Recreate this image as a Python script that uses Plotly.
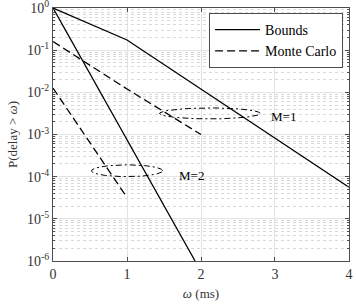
import numpy as np
import plotly.graph_objects as go

# data
bound_m1_x = [0, 1, 4]
bound_m1_y = [1.0, 0.175, 5.6e-5]
bound_m2_x = [0, 1.92]
bound_m2_y = [1.0, 1e-6]
mc_m1_x = [0, 1, 2]
mc_m1_y = [0.16, 0.012, 1.0e-3]
mc_m2_x = [0, 1]
mc_m2_y = [0.0126, 3.2e-5]

ytick_vals = [1e-6, 1e-5, 1e-4, 1e-3, 1e-2, 1e-1, 1]
ytick_text = ["10<sup>-6</sup>", "10<sup>-5</sup>", "10<sup>-4</sup>", "10<sup>-3</sup>",
              "10<sup>-2</sup>", "10<sup>-1</sup>", "10<sup>0</sup>"]
xtick_vals = [0, 1, 2, 3, 4]

# ellipse markers (center x, center log10 y, half width, half height in decades)
ellipses = [(2.12, -2.5, 0.68, 0.13), (1.0, -3.86, 0.48, 0.14)]
labels = [("M=1", 2.92, -2.58), ("M=2", 1.68, -3.97)]

FONT = "Liberation Serif, Times New Roman, serif"
fig = go.Figure()
fig.add_trace(go.Scatter(x=bound_m1_x, y=bound_m1_y, mode="lines", name="Bounds",
                         line=dict(color="black", width=1.3)))
fig.add_trace(go.Scatter(x=bound_m2_x, y=bound_m2_y, mode="lines", showlegend=False,
                         line=dict(color="black", width=1.3)))
fig.add_trace(go.Scatter(x=mc_m1_x, y=mc_m1_y, mode="lines", name="Monte Carlo",
                         line=dict(color="black", width=1.3, dash="8px,4px")))
fig.add_trace(go.Scatter(x=mc_m2_x, y=mc_m2_y, mode="lines", showlegend=False,
                         line=dict(color="black", width=1.3, dash="8px,4px")))

t = np.linspace(0, 2 * np.pi, 120)
for cx, cy, a, b in ellipses:
    fig.add_trace(go.Scatter(x=cx + a * np.cos(t), y=10 ** (cy + b * np.sin(t)), mode="lines",
                             showlegend=False, line=dict(color="black", width=1, dash="6px,3px,2px,3px")))

for txt, x, y in labels:
    fig.add_annotation(x=x, y=y, text=txt, showarrow=False, xanchor="left",
                       font=dict(family=FONT, size=13, color="black"))

axis_common = dict(showline=True, linecolor="#4d4d4d", linewidth=1, mirror="allticks",
                   ticks="inside", ticklen=4, tickcolor="#4d4d4d", zeroline=False, automargin=False,
                   ticklabeloverflow="allow",
                   gridcolor="#e3e3e3", tickfont=dict(family=FONT, size=14, color="#333333"))
fig.update_xaxes(range=[-0.0005, 4.0005], tickvals=xtick_vals,
                 title=dict(text="<i>ω</i> (ms)", font=dict(family=FONT, size=13, color="#333333"), standoff=8),
                 **axis_common)
fig.update_yaxes(type="log", range=[-6.001, 0.001], tickvals=ytick_vals, ticktext=ytick_text,
                 title=dict(text="P(delay > <i>ω</i>)", font=dict(family=FONT, size=13, color="#333333"), standoff=6),
                 minor=dict(ticks="inside", ticklen=2, tickcolor="#4d4d4d", showgrid=True,
                            gridcolor="#d8d8d8", griddash="dot", dtick="D1"),
                 **axis_common)
fig.update_layout(width=356, height=307, margin=dict(l=53, r=7, t=8, b=46),
                  plot_bgcolor="white", paper_bgcolor="white",
                  font=dict(family=FONT, size=13, color="black"),
                  legend=dict(x=0.98, y=0.98, xanchor="right", yanchor="top",
                              bordercolor="#4d4d4d", borderwidth=1, bgcolor="white",
                              font=dict(family=FONT, size=14, color="black"),
                              tracegroupgap=0, itemwidth=45))
fig.write_html("out.html", config={"displayModeBar": False},
               post_script="document.body.style.margin='0';")
